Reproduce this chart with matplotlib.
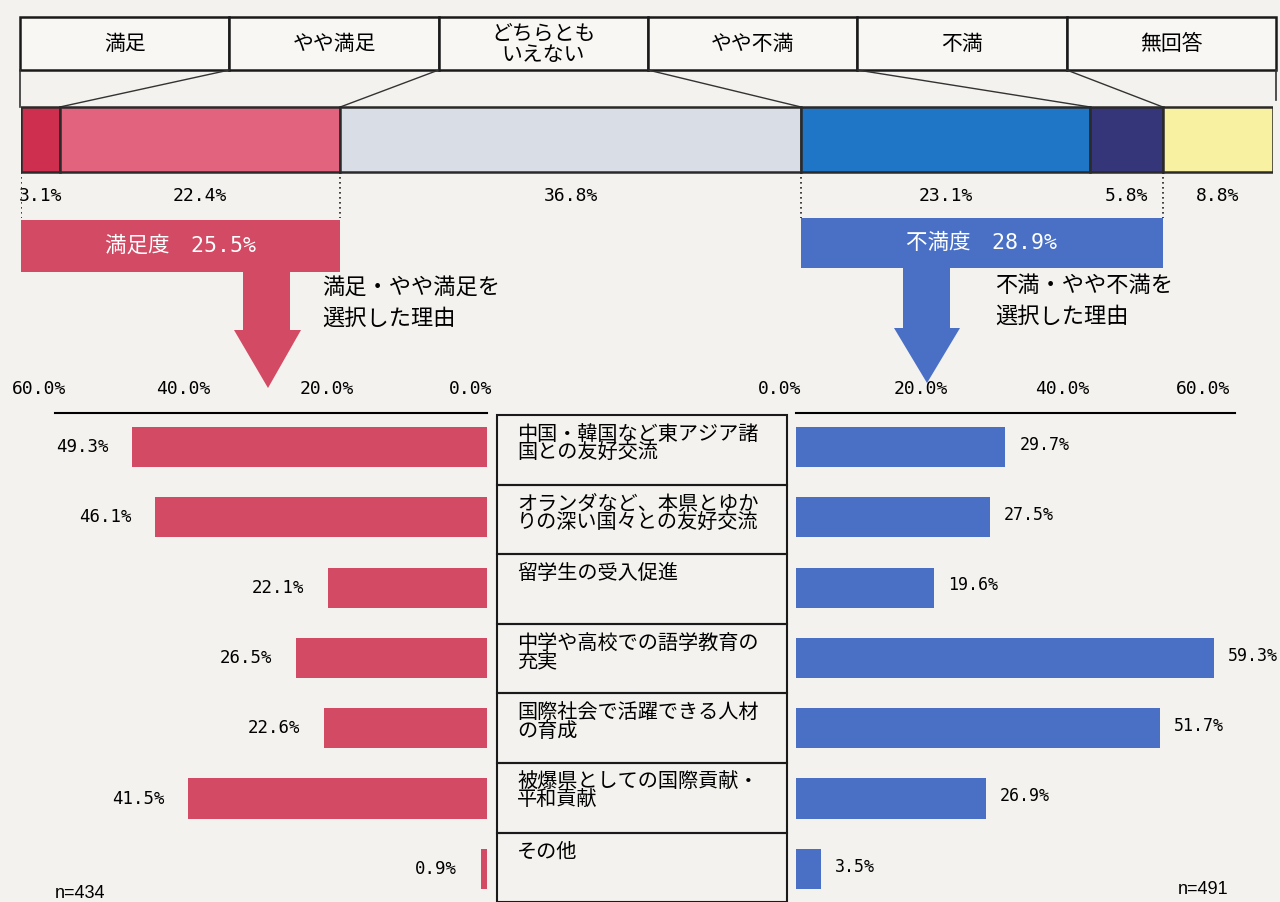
import numpy as np
import matplotlib
matplotlib.use("Agg")
from matplotlib import pyplot as plt
from matplotlib.patches import Rectangle, Polygon, ConnectionPatch
from matplotlib.transforms import ScaledTranslation

## data
answer_labels = ["満足", "やや満足", "どちらとも\nいえない", "やや不満", "不満", "無回答"]
answer_share = [3.1, 22.4, 36.8, 23.1, 5.8, 8.8]
answer_colors = ["#cf2f4f", "#e2637d", "#d9dde5", "#1f76c6", "#35357a", "#f8f1a2"]

reasons = ["中国・韓国など東アジア諸\n国との友好交流",
           "オランダなど、本県とゆか\nりの深い国々との友好交流",
           "留学生の受入促進",
           "中学や高校での語学教育の\n充実",
           "国際社会で活躍できる人材\nの育成",
           "被爆県としての国際貢献・\n平和貢献",
           "その他"]
satisfied_pct = [49.3, 46.1, 22.1, 26.5, 22.6, 41.5, 0.9]
dissatisfied_pct = [29.7, 27.5, 19.6, 59.3, 51.7, 26.9, 3.5]
n_satisfied = 434
n_dissatisfied = 491
axis_ticks = [0, 20, 40, 60]

RED = "#d24a63"
BLUE = "#4a70c6"
BG = "#f3f2ee"
CJK = ["Noto Sans CJK JP", "DejaVu Sans"]
NUM = ["DejaVu Sans Mono", "Noto Sans CJK JP"]

fig = plt.figure(figsize=(12.8, 9.02), dpi=100, facecolor=BG)

# overlay in pixel coords for the frame stuff
ov = fig.add_axes([0, 0, 1, 1], zorder=0)
ov.set_xlim(0, 1280)
ov.set_ylim(902, 0)
ov.axis("off")

# top stacked bar, x = percent, y = pixels
ax = fig.add_axes([21 / 1280, 0, 1252 / 1280, 1], zorder=1)
ax.set_xlim(0, 100)
ax.set_ylim(902, 0)
ax.axis("off")
ax.patch.set_alpha(0)

cum = np.cumsum(answer_share)
left = cum - np.array(answer_share)
ax.barh(139.5, answer_share, left=left, height=65, color=answer_colors,
        edgecolor="#2a2a2a", linewidth=1.8)
for l, v in zip(left, answer_share):
    ax.text(l + v / 2, 196, f"{v:.1f}%", ha="center", va="center",
            family=NUM, fontsize=13)

# header boxes
edges = np.linspace(20, 1276, len(answer_labels) + 1)
for i, lab in enumerate(answer_labels):
    ov.add_patch(Rectangle((edges[i], 17), edges[i + 1] - edges[i], 53,
                           facecolor="#f8f7f4", edgecolor="#1a1a1a", lw=1.8))
    ov.text((edges[i] + edges[i + 1]) / 2, 44, lab, ha="center", va="center",
            family=CJK, fontsize=15, linespacing=0.95)

# connector lines from header boxes down to the bar
ov.plot([20, 20], [70, 107], color="#333", lw=1.2)
ov.plot([1276, 1276], [70, 100], color="#333", lw=1.2)
for k in range(1, len(answer_labels)):
    con = ConnectionPatch(xyA=(edges[k], 70), coordsA=ov.transData,
                          xyB=(cum[k - 1], 107), coordsB=ax.transData,
                          color="#333", lw=1.0)
    fig.add_artist(con)

# satisfied / dissatisfied totals
sat_total = answer_share[0] + answer_share[1]
dis_total = answer_share[3] + answer_share[4]
ax.vlines([0, sat_total, cum[2], cum[2] + dis_total], 172, 218,
          colors="#222", linestyles=(0, (1, 2)), lw=1.2)
ax.barh(246, sat_total, left=0, height=52, color=RED)
ax.barh(243, dis_total, left=cum[2], height=50, color=BLUE)
ax.text(sat_total / 2, 246, f"満足度　{sat_total:.1f}%", ha="center", va="center",
        color="white", family=NUM, fontsize=15.5)
ax.text(cum[2] + dis_total / 2, 243, f"不満度　{dis_total:.1f}%", ha="center",
        va="center", color="white", family=NUM, fontsize=15.5)

# down arrows
ov.add_patch(Polygon([(243, 270), (290, 270), (290, 330), (301, 330), (268, 388),
                      (234, 330), (243, 330)], closed=True, color=RED, lw=0))
ov.add_patch(Polygon([(903, 267), (950, 267), (950, 328), (960, 328), (927, 383),
                      (894, 328), (903, 328)], closed=True, color=BLUE, lw=0))
ov.text(322, 303, "満足・やや満足を\n選択した理由", ha="left", va="center",
        family=CJK, fontsize=16, linespacing=1.45)
ov.text(995, 301, "不満・やや不満を\n選択した理由", ha="left", va="center",
        family=CJK, fontsize=16, linespacing=1.45)

# lower bar charts
row_h = 70.3
y0 = 447
ylim = ((902 - y0) / row_h, (413 - y0) / row_h)
ypos = np.arange(len(reasons))

axl = fig.add_axes([55 / 1280, 0, 432 / 1280, (902 - 413) / 902], zorder=1)
axr = fig.add_axes([796 / 1280, 0, 439 / 1280, (902 - 413) / 902], zorder=1)
axl.set_xlim(60, 0)
axr.set_xlim(0, 439 / 7.05)
shift = ScaledTranslation(-16 / 100, 0, fig.dpi_scale_trans)
for a in (axl, axr):
    a.set_ylim(*ylim)
    a.patch.set_alpha(0)
    for s in ("left", "right", "bottom"):
        a.spines[s].set_visible(False)
    a.spines["top"].set_linewidth(1.5)
    a.set_yticks([])
    a.xaxis.tick_top()
    a.set_xticks(axis_ticks)
    a.set_xticklabels([f"{t:.1f}%" for t in axis_ticks], family=NUM, fontsize=13)
    a.tick_params(axis="x", length=0, pad=11)
    for lbl in a.get_xticklabels():
        lbl.set_transform(lbl.get_transform() + shift)

axl.barh(ypos, satisfied_pct, height=0.57, color=RED)
axr.barh(ypos, dissatisfied_pct, height=0.57, color=BLUE)
for i, v in enumerate(satisfied_pct):
    axl.annotate(f"{v:.1f}%", xy=(v, i), xytext=(-17, 0), textcoords="offset points",
                 ha="right", va="center", family=NUM, fontsize=12.5)
for i, v in enumerate(dissatisfied_pct):
    axr.annotate(f"{v:.1f}%", xy=(v, i - 0.03), xytext=(10, 0), textcoords="offset points",
                 ha="left", va="center", family=NUM, fontsize=12)

# reason table in the middle
t_top = 415
for i, r in enumerate(reasons):
    top = t_top + i * 69.6
    ov.add_patch(Rectangle((497, top), 290, 69.6, facecolor="none",
                           edgecolor="#1a1a1a", lw=1.5))
    ov.text(517, top + 9, r, ha="left", va="top", family=CJK, fontsize=14.5,
            linespacing=0.82)

ov.text(55, 893, f"n={n_satisfied}", ha="left", va="center",
        family="Liberation Sans", fontsize=13)
ov.text(1178, 889, f"n={n_dissatisfied}", ha="left", va="center",
        family="Liberation Sans", fontsize=13)

fig.savefig("out.png", dpi=100, facecolor=BG)
